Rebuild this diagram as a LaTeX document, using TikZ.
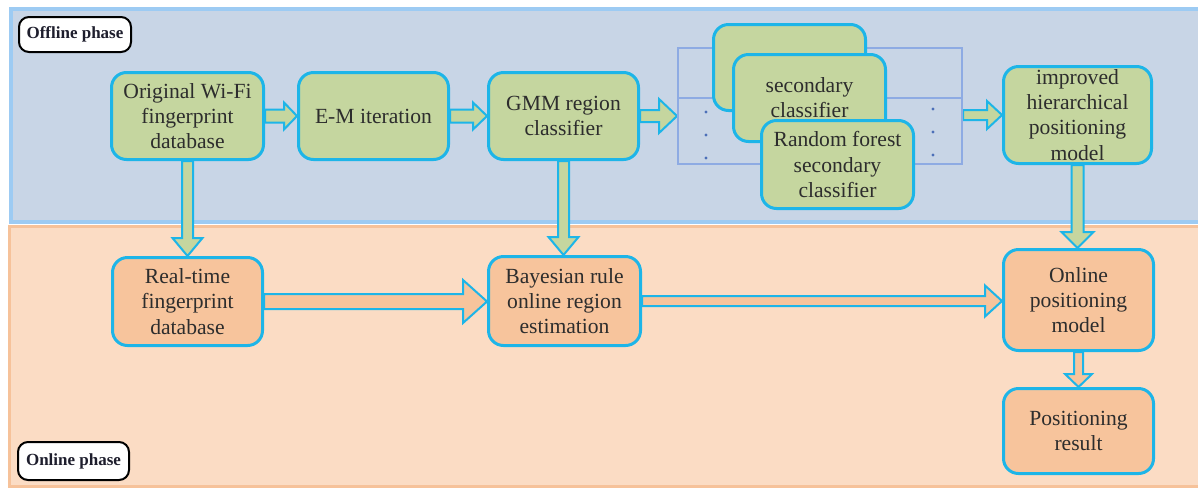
\documentclass[tikz,border=0pt]{standalone}
\usepackage{fontspec}
\setmainfont{Liberation Serif}
\usetikzlibrary{calc}
\pgfdeclarelayer{panel}
\pgfdeclarelayer{arrows}
\pgfsetlayers{panel,arrows,main}

\definecolor{topfill}{RGB}{200,213,230}
\definecolor{topline}{RGB}{157,203,243}
\definecolor{botfill}{RGB}{251,220,196}
\definecolor{botline}{RGB}{246,194,154}
\definecolor{greenfill}{RGB}{197,214,159}
\definecolor{orangefill}{RGB}{247,196,156}
\definecolor{boxline}{RGB}{29,181,232}
\definecolor{frameblue}{RGB}{142,171,227}
\definecolor{dotblue}{RGB}{76,111,184}
\definecolor{txt}{RGB}{45,45,45}
\definecolor{labeltxt}{RGB}{30,30,45}

\tikzset{
  box/.style={draw=boxline, line width=1.5pt, rounded corners=7.5pt, align=center,
    text=txt, inner sep=0pt, font=\fontsize{10.8}{12.6}\selectfont},
  gbox/.style={box, fill=greenfill},
  obox/.style={box, fill=orangefill},
  blk/.style={draw=boxline, line width=1pt, line join=miter},
  phase/.style={draw=black, line width=1pt, fill=white, rounded corners=5pt,
    text=labeltxt, font=\bfseries\fontsize{8.5}{10}\selectfont, inner sep=0pt},
  frameline/.style={draw=frameblue, line width=1pt},
}

% block arrow pointing right: from, to, shaft half width, head half width, head length, fill
\newcommand\hblk[6]{%
  \path[blk, fill=#6] let \p1=(#1), \p2=(#2) in
    (\x1,\y1+#3) -- (\x2-#5,\y1+#3) -- (\x2-#5,\y1+#4) -- (\x2,\y1)
    -- (\x2-#5,\y1-#4) -- (\x2-#5,\y1-#3) -- (\x1,\y1-#3) -- cycle;}
% block arrow pointing down
\newcommand\vblk[6]{%
  \path[blk, fill=#6] let \p1=(#1), \p2=(#2) in
    (\x1-#3,\y1) -- (\x1-#3,\y2+#5) -- (\x1-#4,\y2+#5) -- (\x1,\y2)
    -- (\x1+#4,\y2+#5) -- (\x1+#3,\y2+#5) -- (\x1+#3,\y1) -- cycle;}

\begin{document}
\begin{tikzpicture}[x=0.5pt, y=-0.5pt]
\useasboundingbox (0,0) rectangle (1198,488);
\clip (0,0) rectangle (1198,488);

% phase panels
\begin{pgfonlayer}{panel}
  \fill[white] (0,0) rectangle (1198,488);
  \path[draw=botline, line width=1.5pt, fill=botfill] (9.5,226) rectangle (1220,486.5);
  \path[draw=topline, line width=2pt, fill=topfill] (11,9) rectangle (1220,222);
\end{pgfonlayer}

\node[phase, minimum width=56pt, minimum height=17.5pt] (offl) at (75,34.5) {Offline phase};
\node[phase, minimum width=55.5pt, minimum height=19pt] (onl) at (73.5,461) {Online phase};

% frame holding the secondary classifiers
\node[frameline, minimum width=142pt, minimum height=58pt, inner sep=0pt] (fr) at (820,106) {};
\coordinate (midrow) at (0,98);
\draw[frameline] (fr.west |- midrow) -- (fr.east |- midrow);
\foreach \yy in {112,135,158} \fill[dotblue] (706,\yy) circle (0.8pt);
\foreach \yy in {109,132,155} \fill[dotblue] (933,\yy) circle (0.8pt);

% offline nodes
\node[gbox, minimum width=76pt, minimum height=43.5pt] (orig) at (187.5,116) {Original Wi-Fi\\fingerprint\\database};
\node[gbox, minimum width=75pt, minimum height=43.5pt] (em) at (373.5,116) {E-M iteration};
\node[gbox, minimum width=75pt, minimum height=43.5pt] (gmm) at (563.5,116) {GMM region\\classifier};
\node[gbox, minimum width=76pt, minimum height=43pt] (rf1) at (789.5,67.5) {};
\node[gbox, minimum width=76pt, minimum height=43.5pt] (rf2) at (809.5,98) {secondary\\classifier};
\node[gbox, minimum width=76pt, minimum height=44pt] (rf3) at (837.5,164.5) {Random forest\\secondary\\classifier};
\node[gbox, minimum width=74pt, minimum height=48.5pt] (impr) at (1077.5,115) {improved\\hierarchical\\positioning\\model};

% online nodes
\node[obox, minimum width=75pt, minimum height=44pt] (real) at (187.5,301.5) {Real-time\\fingerprint\\database};
\node[obox, minimum width=76pt, minimum height=44.5pt] (bayes) at (564.5,301) {Bayesian rule\\online region\\estimation};
\node[obox, minimum width=75pt, minimum height=50.5pt] (onmod) at (1078.5,300) {Online\\positioning\\model};
\node[obox, minimum width=75pt, minimum height=42.5pt] (res) at (1078.5,431) {Positioning\\result};

% block arrows
\begin{pgfonlayer}{arrows}
  \hblk{orig.east}{em.west}{3.25pt}{6.75pt}{6.5pt}{greenfill}
  \hblk{em.west -| em.east}{gmm.west}{3.25pt}{6.75pt}{7pt}{greenfill}
  \hblk{gmm.east}{gmm.east -| fr.west}{3pt}{8.5pt}{9pt}{greenfill}
  \hblk{impr.west -| fr.east}{impr.west}{2.5pt}{7pt}{7.5pt}{greenfill}
  \vblk{orig.south}{real.north}{2.75pt}{7.5pt}{9pt}{greenfill}
  \vblk{gmm.south}{bayes.north}{2.75pt}{7.5pt}{9pt}{greenfill}
  \vblk{impr.south}{onmod.north}{3pt}{8pt}{8pt}{greenfill}
  \hblk{real.east}{bayes.west}{3.75pt}{10.75pt}{12pt}{orangefill}
  \hblk{bayes.east}{onmod.west}{2.5pt}{7.75pt}{8.5pt}{orangefill}
  \vblk{onmod.south}{res.north}{2.25pt}{6.75pt}{6.5pt}{orangefill}
\end{pgfonlayer}
\end{tikzpicture}
\end{document}
